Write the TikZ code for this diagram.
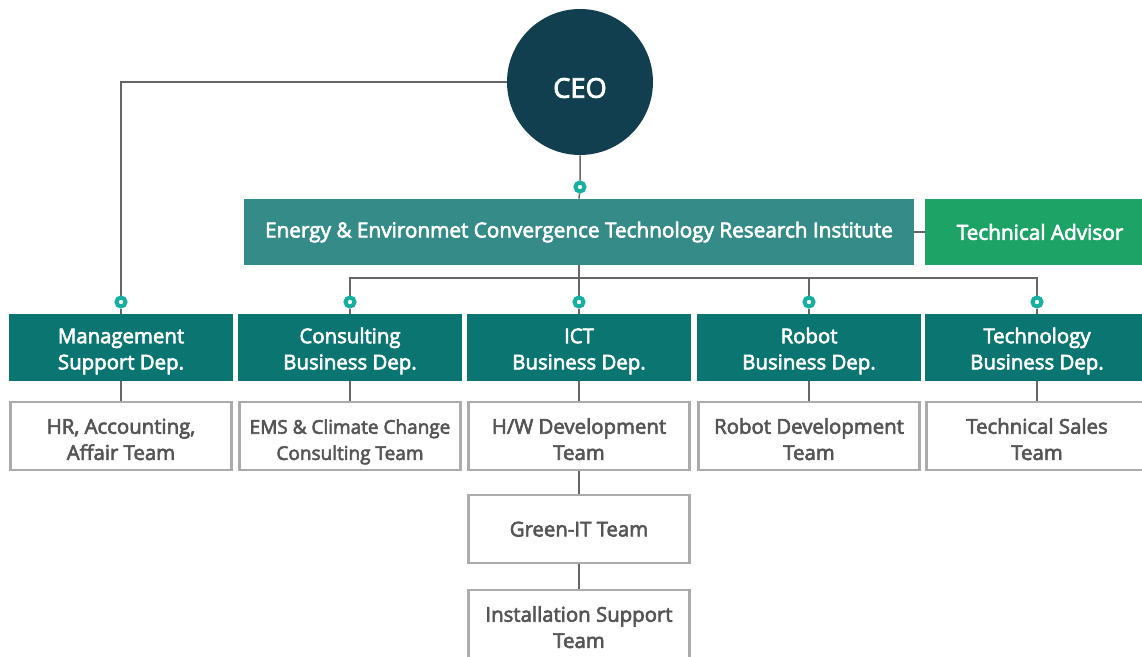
\documentclass[tikz,border=0pt]{standalone}
\usepackage{fontspec}
\setmainfont{Open Sans}
\newfontfamily\medfont{Open Sans}[FakeBold=3]
\usetikzlibrary{backgrounds}

\definecolor{ceoblue}{HTML}{113F4F}
\definecolor{instteal}{HTML}{348B87}
\definecolor{depteal}{HTML}{0B7571}
\definecolor{advgreen}{HTML}{1EA366}
\definecolor{dotteal}{HTML}{17AFA0}
\definecolor{linegray}{HTML}{666666}
\definecolor{boxgray}{HTML}{ABABAB}
\definecolor{textgray}{HTML}{555555}

\begin{document}
\begin{tikzpicture}[
        x=0.02cm, y=-0.02cm,
        ceo/.style={circle, fill=ceoblue, text=white, minimum size=2.92cm, inner sep=0pt,
            text height=0.63cm, text depth=0pt,
            font=\medfont\fontsize{15.5}{17}\selectfont},
        inst/.style={fill=instteal, text=white, minimum width=13.4cm, minimum height=1.32cm,
            inner sep=0pt, font=\medfont\fontsize{11.8}{14.9}\selectfont},
        adv/.style={fill=advgreen, text=white, minimum width=4.6cm, minimum height=1.34cm,
            inner sep=0pt, font=\medfont\fontsize{11.8}{14.9}\selectfont},
        dept/.style={fill=depteal, text=white, minimum width=4.48cm, minimum height=1.34cm,
            inner sep=0pt, align=center, text height=27.7pt, text depth=2.8pt,
            font=\medfont\fontsize{11.6}{14.9}\selectfont},
        team/.style={draw=boxgray, line width=0.05cm, fill=white, text=textgray,
            minimum width=4.43cm, minimum height=1.36cm, inner sep=0pt, align=center,
            text height=30pt, text depth=2.8pt,
            font=\medfont\fontsize{11.6}{14.9}\selectfont},
        dot/.style={circle, draw=dotteal, line width=0.08cm, fill=white,
            minimum size=0.18cm, inner sep=0pt},
        link/.style={draw=linegray, line width=0.03cm}
    ]
        \useasboundingbox (0,0) rectangle (1142,656);

        % CEO and institute
        \node[ceo] (ceo) at (580,82) {CEO};
        \node[inst] (inst) at (579,232) {Energy \& Environmet Convergence Technology Research Institute};
        \node[adv] (adv) at (1040,232) {Technical Advisor};

        % Departments
        \node[dept] (mgmt) at (121,347.5) {Management\\Support Dep.};
        \node[dept] (cons) at (350,347.5) {Consulting\\Business Dep.};
        \node[dept] (ict)  at (579,347.5) {ICT\\Business Dep.};
        \node[dept] (robot) at (809,347.5) {Robot\\Business Dep.};
        \node[dept] (tech) at (1037,347.5) {Technology\\Business Dep.};

        % Teams
        \node[team] (hr)    at (121,436) {HR, Accounting,\\Affair Team};
        \node[team, font=\medfont\fontsize{10.8}{14.9}\selectfont] (ems) at (350,436)
            {EMS \& Climate Change\\Consulting Team};
        \node[team] (hw)    at (579,436) {H/W Development\\Team};
        \node[team] (robdev) at (809,436) {Robot Development\\Team};
        \node[team] (sales) at (1037,436) {Technical Sales\\Team};
        \node[team, text height=8.4pt, text depth=0pt] (green) at (579,529) {Green-IT Team};
        \node[team] (inst2) at (579,624) {Installation Support\\Team};

        % Junction dots
        \node[dot] (d0) at (580,187) {};
        \node[dot] (d1) at (121,302) {};
        \node[dot] (d2) at (350,302) {};
        \node[dot] (d3) at (579,302) {};
        \node[dot] (d4) at (809,302) {};
        \node[dot] (d5) at (1037,302) {};
        \coordinate (busl) at (350,278);
        \coordinate (busr) at (1037,278);

        % Connectors
        \begin{scope}[on background layer]
            \draw[link] (ceo.west) -| (d1);
            \draw[link] (d1) -- (mgmt.north);
            \draw[link] (ceo.south) -- (d0) -- (inst.north);
            \draw[link] (inst.east) -- (adv.west);
            \draw[link] (inst.south) -- (d3) -- (ict.north);
            \draw[link] (d2) -- (busl) -- (busr) -- (d5);
            \draw[link] (d4) -- (d4 |- busl);
            \draw[link] (d2) -- (cons.north);
            \draw[link] (d4) -- (robot.north);
            \draw[link] (d5) -- (tech.north);
            \draw[link] (mgmt.south) -- (hr.north);
            \draw[link] (cons.south) -- (ems.north);
            \draw[link] (ict.south) -- (hw.north);
            \draw[link] (robot.south) -- (robdev.north);
            \draw[link] (tech.south) -- (sales.north);
            \draw[link] (hw.south) -- (green.north);
            \draw[link] (green.south) -- (inst2.north);
        \end{scope}
    \end{tikzpicture}
\end{document}
